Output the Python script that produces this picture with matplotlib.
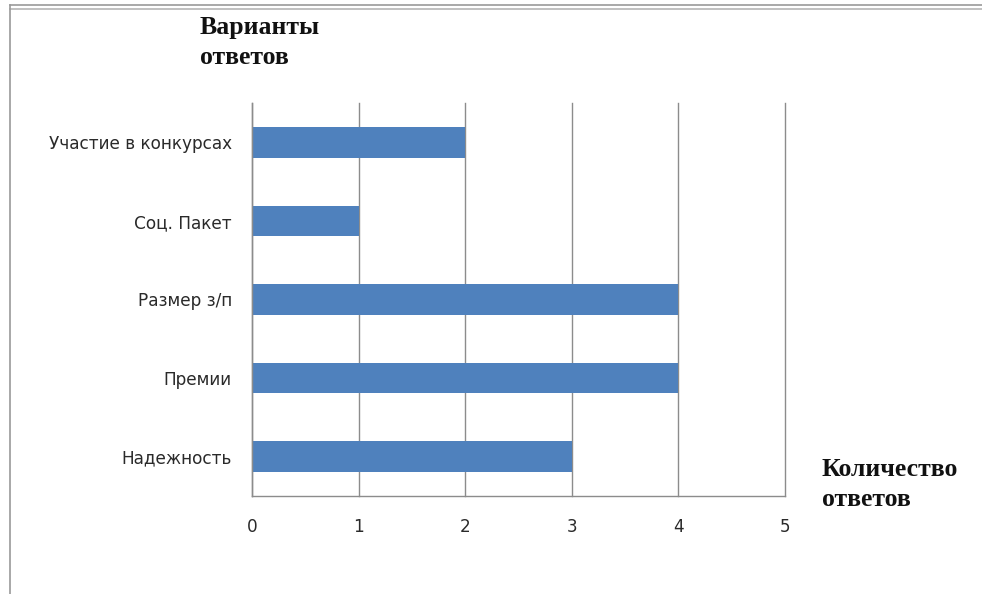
import matplotlib
matplotlib.use("Agg")
import matplotlib.pyplot as plt
from matplotlib.lines import Line2D

categories = ["Надежность", "Премии", "Размер з/п", "Соц. Пакет", "Участие в конкурсах"]
counts = [3, 4, 4, 1, 2]
x_ticks = [0, 1, 2, 3, 4, 5]

BAR_COLOR = "#4F81BD"
GRID_COLOR = "#8C8C8C"

fig = plt.figure(figsize=(9.82, 5.94), dpi=100)
ax = fig.add_axes([0.2566, 0.165, 0.5428, 0.6616])

ypos = range(len(categories))
ax.barh(ypos, counts, height=0.39, color=BAR_COLOR, zorder=2)

ax.set_xlim(0, 5)
ax.set_ylim(-0.5, len(categories) - 0.5)
ax.set_xticks(x_ticks)
ax.set_yticks(list(ypos))
ax.set_yticklabels(categories)
ax.xaxis.grid(True, color=GRID_COLOR, linewidth=1.0, zorder=1)
ax.set_axisbelow(True)
for gl in ax.get_xgridlines():
    gl.set_clip_on(False)

for side in ("top", "right"):
    ax.spines[side].set_visible(False)
for side in ("left", "bottom"):
    ax.spines[side].set_color(GRID_COLOR)
    ax.spines[side].set_linewidth(1.0)

ax.tick_params(axis="both", length=0, labelsize=12.2, labelcolor="#2a2a2a")
ax.tick_params(axis="y", pad=14.5)
ax.tick_params(axis="x", pad=15.5)
for lbl in ax.get_xticklabels() + ax.get_yticklabels():
    lbl.set_family("DejaVu Sans")

serif = dict(family="Liberation Serif", weight="bold", fontsize=18.5, color="#111111",
             ha="left", va="top", linespacing=1.38)
fig.text(200 / 982, 1 - 16 / 594, "Варианты\nответов", **serif)
fig.text(822 / 982, 1 - 458 / 594, "Количество\nответов", **serif)

# frame lines along the top and left edge
fig.add_artist(Line2D([10 / 982, 1], [1 - 5 / 594] * 2, color="#9A9A9A", lw=1.2))
fig.add_artist(Line2D([10 / 982, 1], [1 - 8.5 / 594] * 2, color="#B5B5B5", lw=1.2))
fig.add_artist(Line2D([10 / 982] * 2, [0, 1 - 5 / 594], color="#9A9A9A", lw=1.2))

fig.savefig("out.png", dpi=100)
